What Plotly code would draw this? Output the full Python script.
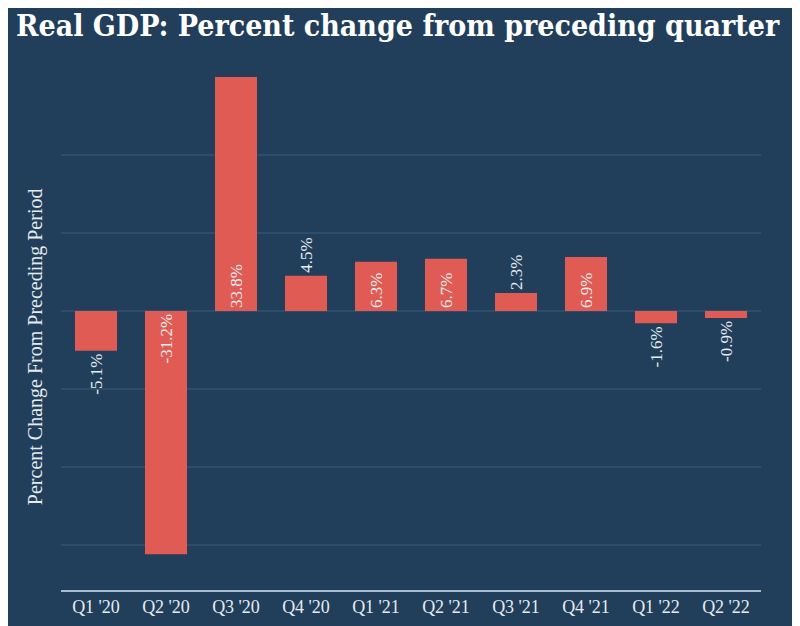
import plotly.graph_objects as go

quarters = ["Q1 '20", "Q2 '20", "Q3 '20", "Q4 '20", "Q1 '21", "Q2 '21", "Q3 '21", "Q4 '21", "Q1 '22", "Q2 '22"]
values = [-5.1, -31.2, 33.8, 4.5, 6.3, 6.7, 2.3, 6.9, -1.6, -0.9]
labels = ["-5.1%", "-31.2%", "33.8%", "4.5%", "6.3%", "6.7%", "2.3%", "6.9%", "-1.6%", "-0.9%"]
positions = ["outside", "inside", "inside", "outside", "inside", "inside", "outside", "inside", "outside", "outside"]

BG = "#213e5b"
BAR = "#df5b53"
GRID = "#2e4d6b"
TXT = "#e6ebef"

fig = go.Figure(go.Bar(
    x=quarters, y=values, text=labels, textposition=positions,
    textangle=-90, insidetextanchor="start", constraintext="none",
    marker=dict(color=BAR, line=dict(width=0)),
    width=0.6,
    textfont=dict(family="Liberation Serif", size=17, color=TXT),
    cliponaxis=True,
))

fig.update_layout(
    width=800, height=626,
    paper_bgcolor=BG, plot_bgcolor=BG,
    margin=dict(l=53, r=47, t=69, b=44, autoexpand=False),
    showlegend=False,
    title=dict(text="<b>Real GDP: Percent change from preceding quarter</b>",
               x=0.487, xanchor="center", y=0.972, yanchor="middle", xref="container", yref="container",
               font=dict(family="DejaVu Serif Condensed", size=30, color="white")),
    font=dict(family="Liberation Serif", color=TXT),
    annotations=[dict(text="Percent Change From Preceding Period", textangle=-90,
                      xref="paper", yref="paper", x=-0.016, y=0.474, xanchor="right", yanchor="middle",
                      showarrow=False, font=dict(family="Liberation Serif", size=20, color=TXT))],
)
fig.update_xaxes(showgrid=False, showline=True, linecolor="#a9bccd", linewidth=1.5, automargin=False,
                 tickfont=dict(family="Liberation Serif", size=18, color=TXT), ticks="")
fig.update_yaxes(range=[-35.8, 30], dtick=10, showgrid=True, gridcolor=GRID, gridwidth=1.5, automargin=False,
                 zeroline=True, zerolinecolor=GRID, zerolinewidth=1.5, showticklabels=False)

fig.write_html("out.html")
